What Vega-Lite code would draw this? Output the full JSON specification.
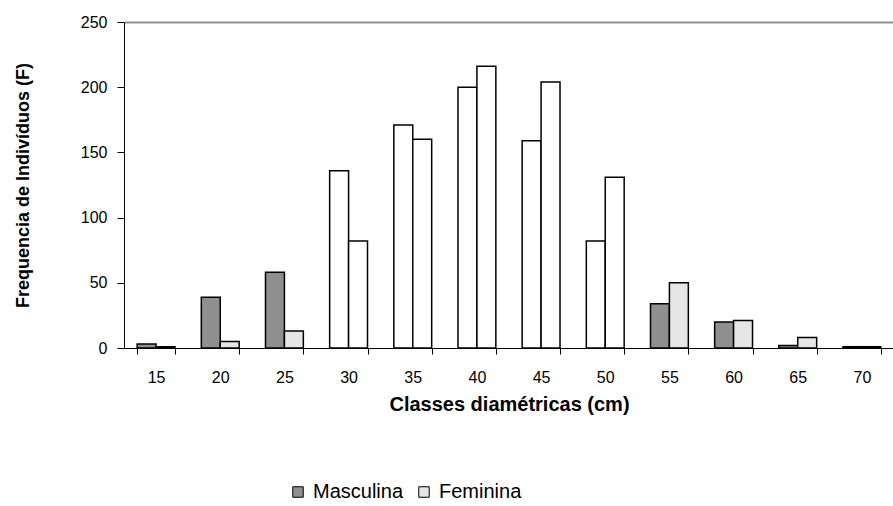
{
  "$schema": "https://vega.github.io/schema/vega-lite/v6.json",
  "width": 770,
  "height": 326,
  "autosize": {"type": "none"},
  "padding": {"left": 124, "top": 22, "right": 0, "bottom": 158},
  "background": "white",
  "config": {
    "view": {"stroke": null},
    "font": "Liberation Sans",
    "axis": {"labelFont": "Liberation Sans", "titleFont": "Liberation Sans", "labelColor": "black", "titleColor": "black", "domainColor": "black", "tickColor": "black", "grid": false}
  },
  "data": {
    "values": [
      {"classe": 15, "serie": "Masculina", "freq": 3},
      {"classe": 15, "serie": "Feminina", "freq": 1},
      {"classe": 20, "serie": "Masculina", "freq": 39},
      {"classe": 20, "serie": "Feminina", "freq": 5},
      {"classe": 25, "serie": "Masculina", "freq": 58},
      {"classe": 25, "serie": "Feminina", "freq": 13},
      {"classe": 30, "serie": "Masculina", "freq": 136},
      {"classe": 30, "serie": "Feminina", "freq": 82},
      {"classe": 35, "serie": "Masculina", "freq": 171},
      {"classe": 35, "serie": "Feminina", "freq": 160},
      {"classe": 40, "serie": "Masculina", "freq": 200},
      {"classe": 40, "serie": "Feminina", "freq": 216},
      {"classe": 45, "serie": "Masculina", "freq": 159},
      {"classe": 45, "serie": "Feminina", "freq": 204},
      {"classe": 50, "serie": "Masculina", "freq": 82},
      {"classe": 50, "serie": "Feminina", "freq": 131},
      {"classe": 55, "serie": "Masculina", "freq": 34},
      {"classe": 55, "serie": "Feminina", "freq": 50},
      {"classe": 60, "serie": "Masculina", "freq": 20},
      {"classe": 60, "serie": "Feminina", "freq": 21},
      {"classe": 65, "serie": "Masculina", "freq": 2},
      {"classe": 65, "serie": "Feminina", "freq": 8},
      {"classe": 70, "serie": "Masculina", "freq": 1},
      {"classe": 70, "serie": "Feminina", "freq": 1}
    ]
  },
  "mark": {"type": "bar", "stroke": "black", "strokeWidth": 1.5},
  "encoding": {
    "x": {
      "field": "classe",
      "type": "ordinal",
      "scale": {"paddingInner": 0.41, "paddingOuter": 0.205},
      "axis": {
        "labelAngle": 0,
        "tickBand": "extent",
        "tickSize": 6,
        "labelFontSize": 16,
        "labelPadding": 15,
        "title": "Classes diamétricas (cm)",
        "titleFontSize": 20,
        "titleFontWeight": "bold",
        "titlePadding": 9
      }
    },
    "xOffset": {"field": "serie", "type": "nominal", "sort": ["Masculina", "Feminina"]},
    "y": {
      "field": "freq",
      "type": "quantitative",
      "scale": {"domain": [0, 250], "nice": false},
      "axis": {
        "values": [0, 50, 100, 150, 200, 250],
        "tickSize": 7,
        "labelFontSize": 16,
        "labelPadding": 10,
        "grid": true,
        "gridColor": "#909090",
        "gridWidth": 2,
        "gridOpacity": {"condition": {"test": "datum.value === 250", "value": 1}, "value": 0},
        "title": "Frequencia de Indivíduos (F)",
        "titleFontSize": 18,
        "titleFontWeight": "bold",
        "titlePadding": 48
      }
    },
    "color": {
      "condition": {"test": "datum.classe >= 30 && datum.classe <= 50", "value": "white"},
      "field": "serie",
      "type": "nominal",
      "scale": {"domain": ["Masculina", "Feminina"], "range": ["#8f8f8f", "#e6e6e6"]},
      "legend": {
        "title": null,
        "orient": "none",
        "direction": "horizontal",
        "legendX": 164,
        "legendY": 460,
        "symbolType": "square",
        "symbolSize": 110,
        "symbolStrokeColor": "black",
        "symbolStrokeWidth": 1,
        "symbolOpacity": 1,
        "labelFontSize": 20,
        "labelColor": "black",
        "labelOffset": 5,
        "columnPadding": 10
      }
    }
  }
}
